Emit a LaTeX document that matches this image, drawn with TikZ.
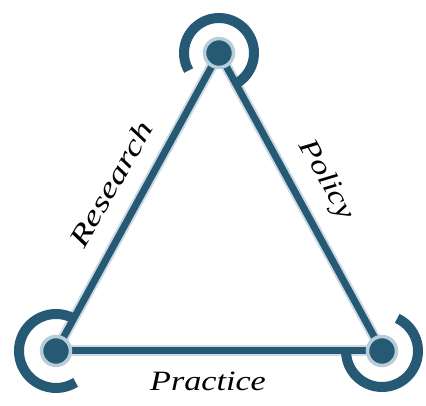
\documentclass[tikz,border=0pt]{standalone}
\usepackage{fontspec}
\newfontfamily\lblfont[FakeStretch=1.22]{Liberation Serif}
\newfontfamily\lblwide[FakeStretch=1.36]{Liberation Serif}
\definecolor{teal1}{RGB}{38,90,116}
\definecolor{halo}{RGB}{185,204,218}
\definecolor{soft}{RGB}{205,218,228}
\tikzset{
  edgeline/.style={draw=teal1, line width=7pt},
  softline/.style={draw=soft, line width=11pt},
  ring/.style={draw=teal1, line width=10pt},
  dotnode/.style={circle, fill=teal1, draw=halo, line width=3.5pt, minimum size=29pt, inner sep=0pt},
  lbl/.style={font=\lblfont\fontsize{28}{32}\selectfont\itshape, text=black, inner sep=0pt}
}
\begin{document}
\begin{tikzpicture}[x=1pt,y=1pt]
\useasboundingbox[fill=white] (0,0) rectangle (426,406);
\coordinate (T) at (219,353);
\coordinate (L) at (56,55);
\coordinate (R) at (382,55);
% soft underlay
\draw[softline] (T) -- (L);
\draw[softline] (T) -- (R);
\draw[softline] (L) -- (R);
% open rings
\draw[ring] ([shift={(210:35)}]T) arc[start angle=210, end angle=-60, radius=35];
\draw[ring] ([shift={(62:37)}]L) arc[start angle=62, end angle=302, radius=37];
\draw[ring] ([shift={(65:36)}]R) arc[start angle=65, end angle=-180, radius=36];
% edges
\draw[edgeline] (T) -- (L);
\draw[edgeline] (T) -- (R);
\draw[edgeline] (L) -- (R);
% dots
\node[dotnode] (Tdot) at (T) {};
\node[dotnode] (Ldot) at (L) {};
\node[dotnode] (Rdot) at (R) {};
% labels
\node[lbl, font=\lblwide\fontsize{28}{32}\selectfont\itshape, rotate=60] (research) at (111,222) {Research};
\node[lbl, rotate=-61] (policy) at (326,226) {Policy};
\node[lbl] (practice) at (208,25) {Practice};
\end{tikzpicture}
\end{document}
